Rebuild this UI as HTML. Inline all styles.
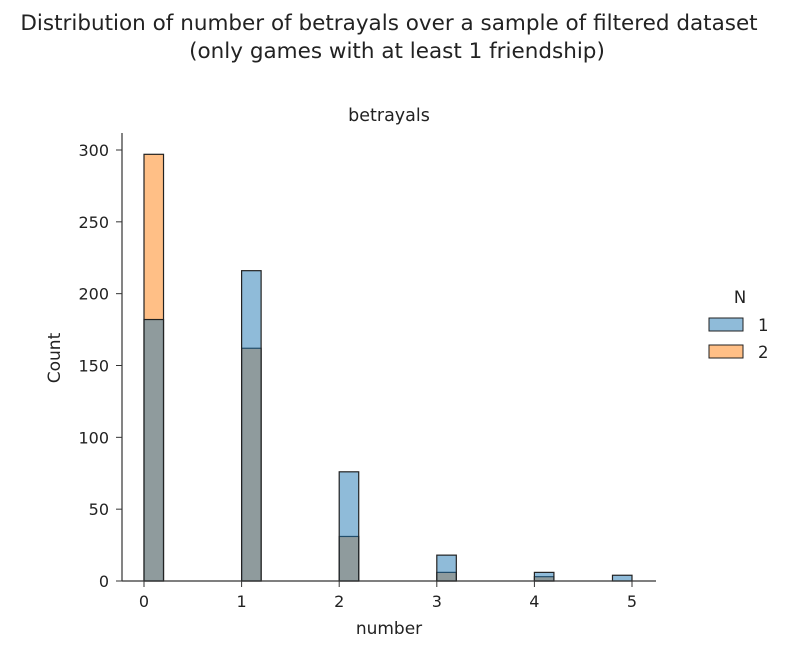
<!DOCTYPE html>
<html><head><meta charset="utf-8"><style>
body{margin:0;background:#fff;width:798px;height:652px;overflow:hidden}
text{font-family:"DejaVu Sans","Liberation Sans",sans-serif;fill:#222}
</style></head><body>
<svg id="chart" width="798" height="652">
<text x="389" y="30" font-size="21.5" text-anchor="middle">Distribution of number of betrayals over a sample of filtered dataset</text>
<text x="397" y="58" font-size="21.5" text-anchor="middle">(only games with at least 1 friendship)</text>
<text x="389" y="121" font-size="17.5" text-anchor="middle">betrayals</text>
<g id="bars"></g>
<line x1="122" y1="133" x2="122" y2="581" stroke="#333" stroke-width="1.2"/>
<line x1="122" y1="581" x2="656" y2="581" stroke="#333" stroke-width="1.2"/>
<g id="ticks"></g>
<text x="389" y="634" font-size="17" text-anchor="middle">number</text>
<text transform="translate(60,358) rotate(-90)" font-size="17" text-anchor="middle">Count</text>
<g>
<text x="740" y="303" font-size="16.5" text-anchor="middle">N</text>
<rect x="709" y="318" width="34" height="13" fill="#8fbbd9" stroke="#222"/>
<text x="758" y="331" font-size="16.5">1</text>
<rect x="709" y="345" width="34" height="13" fill="#ffbf86" stroke="#222"/>
<text x="758" y="358" font-size="16.5">2</text>
</g>
</svg>
<script>
const bins=[0,1,2,3,4,5];
const countsN2=[297,162,31,6,3,0];
const countsN1=[182,216,76,18,6,4];
const yTicks=[0,50,100,150,200,250,300];
const xTicks=[0,1,2,3,4,5];
const NS="http://www.w3.org/2000/svg";
const xs=v=>144+97.6*v;
const ys=v=>581-(431/300)*v;
const binW=0.2;
function binStart(v){return Math.min(v,5-binW);}
const g=document.getElementById('bars');
function bar(v,c,fill,name){
  if(c<=0)return;
  const r=document.createElementNS(NS,'rect');
  const x0=xs(binStart(v)),x1=xs(binStart(v)+binW);
  r.setAttribute('x',x0);r.setAttribute('width',x1-x0);
  r.setAttribute('y',ys(c));r.setAttribute('height',ys(0)-ys(c));
  r.setAttribute('fill',fill);r.setAttribute('fill-opacity','0.5');
  r.setAttribute('stroke','#222');r.setAttribute('stroke-width','1.2');
  
  
  g.appendChild(r);
}
bins.forEach((b,i)=>bar(b,countsN2[i],'#ff7f0e','bar-n2-'+b));
bins.forEach((b,i)=>bar(b,countsN1[i],'#1f77b4','bar-n1-'+b));
const t=document.getElementById('ticks');
yTicks.forEach(v=>{
  const l=document.createElementNS(NS,'line');
  l.setAttribute('x1',116);l.setAttribute('x2',122);l.setAttribute('y1',ys(v));l.setAttribute('y2',ys(v));l.setAttribute('stroke','#333');
  
  
  t.appendChild(l);
  const tx=document.createElementNS(NS,'text');
  tx.setAttribute('x',109);tx.setAttribute('y',ys(v)+6);tx.setAttribute('text-anchor','end');tx.setAttribute('font-size','16');tx.textContent=v;
  
  
  t.appendChild(tx);
});
xTicks.forEach(v=>{
  const l=document.createElementNS(NS,'line');
  l.setAttribute('x1',xs(v));l.setAttribute('x2',xs(v));l.setAttribute('y1',581);l.setAttribute('y2',587);l.setAttribute('stroke','#333');
  
  
  t.appendChild(l);
  const tx=document.createElementNS(NS,'text');
  tx.setAttribute('x',xs(v));tx.setAttribute('y',607);tx.setAttribute('text-anchor','middle');tx.setAttribute('font-size','16');tx.textContent=v;
  
  
  t.appendChild(tx);
});
</script>
</body></html>
